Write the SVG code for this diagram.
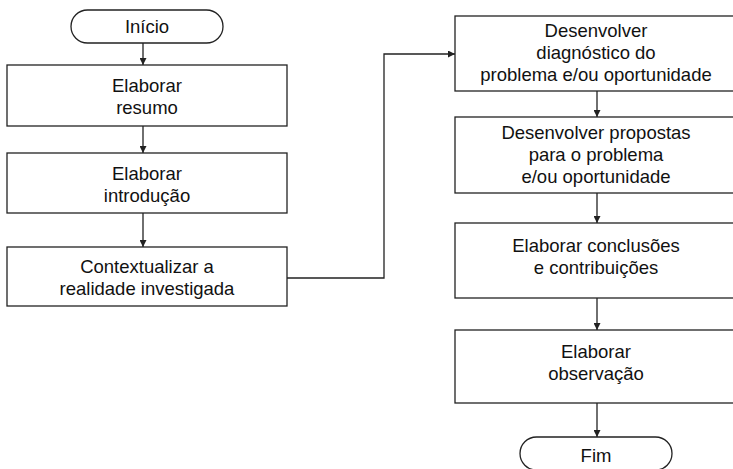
<svg xmlns="http://www.w3.org/2000/svg" width="733" height="469" viewBox="0 0 733 469">
<defs>
<style>
.box{fill:#fff;stroke:#222;stroke-width:1.3}
.t{font-family:"Liberation Sans",Arial,Helvetica,sans-serif;font-size:18.5px;fill:#111;text-anchor:middle}
.c{fill:none;stroke:#222;stroke-width:1.3}
</style>
<marker id="ah" viewBox="0 0 10 10" refX="10" refY="5" markerWidth="7" markerHeight="7" markerUnits="userSpaceOnUse" orient="auto">
<path d="M0,0 L10,5 L0,10 Z" fill="#222"/>
</marker>
</defs>
<rect width="733" height="469" fill="#fff"/>
<g id="connectors">
<line class="c" x1="143" y1="43" x2="143" y2="65" marker-end="url(#ah)"/>
<line class="c" x1="143" y1="126" x2="143" y2="153" marker-end="url(#ah)"/>
<line class="c" x1="143" y1="213" x2="143" y2="247" marker-end="url(#ah)"/>
<polyline class="c" points="287,278 384,278 384,54 455,54" marker-end="url(#ah)"/>
<line class="c" x1="597" y1="91" x2="597" y2="117" marker-end="url(#ah)"/>
<line class="c" x1="597" y1="193" x2="597" y2="223" marker-end="url(#ah)"/>
<line class="c" x1="597" y1="298" x2="597" y2="330" marker-end="url(#ah)"/>
<line class="c" x1="597" y1="403" x2="597" y2="437" marker-end="url(#ah)"/>
</g>
<g id="inicio">
<rect class="box" x="71" y="10" width="152" height="33" rx="16.5" ry="16.5"/>
<text class="t" x="147" y="33">Início</text>
</g>
<g id="resumo">
<rect class="box" x="7" y="65" width="280" height="61"/>
<text class="t" x="147" y="92">Elaborar</text>
<text class="t" x="147" y="114">resumo</text>
</g>
<g id="introducao">
<rect class="box" x="7" y="153" width="280" height="60"/>
<text class="t" x="147" y="180">Elaborar</text>
<text class="t" x="147" y="202">introdução</text>
</g>
<g id="contextualizar">
<rect class="box" x="7" y="247" width="280" height="59"/>
<text class="t" x="147" y="273">Contextualizar a</text>
<text class="t" x="147" y="295">realidade investigada</text>
</g>
<g id="diagnostico">
<rect class="box" x="455" y="16" width="282" height="75"/>
<text class="t" x="596" y="37">Desenvolver</text>
<text class="t" x="596" y="59">diagnóstico do</text>
<text class="t" x="596" y="81">problema e/ou oportunidade</text>
</g>
<g id="propostas">
<rect class="box" x="455" y="117" width="282" height="76"/>
<text class="t" x="596" y="139">Desenvolver propostas</text>
<text class="t" x="596" y="161">para o problema</text>
<text class="t" x="596" y="183">e/ou oportunidade</text>
</g>
<g id="conclusoes">
<rect class="box" x="455" y="223" width="282" height="75"/>
<text class="t" x="596" y="252">Elaborar conclusões</text>
<text class="t" x="596" y="274">e contribuições</text>
</g>
<g id="observacao">
<rect class="box" x="455" y="330" width="282" height="73"/>
<text class="t" x="596" y="358">Elaborar</text>
<text class="t" x="596" y="380">observação</text>
</g>
<g id="fim">
<rect class="box" x="520" y="437" width="152" height="33" rx="16.5" ry="16.5"/>
<text class="t" x="596" y="462">Fim</text>
</g>
</svg>
